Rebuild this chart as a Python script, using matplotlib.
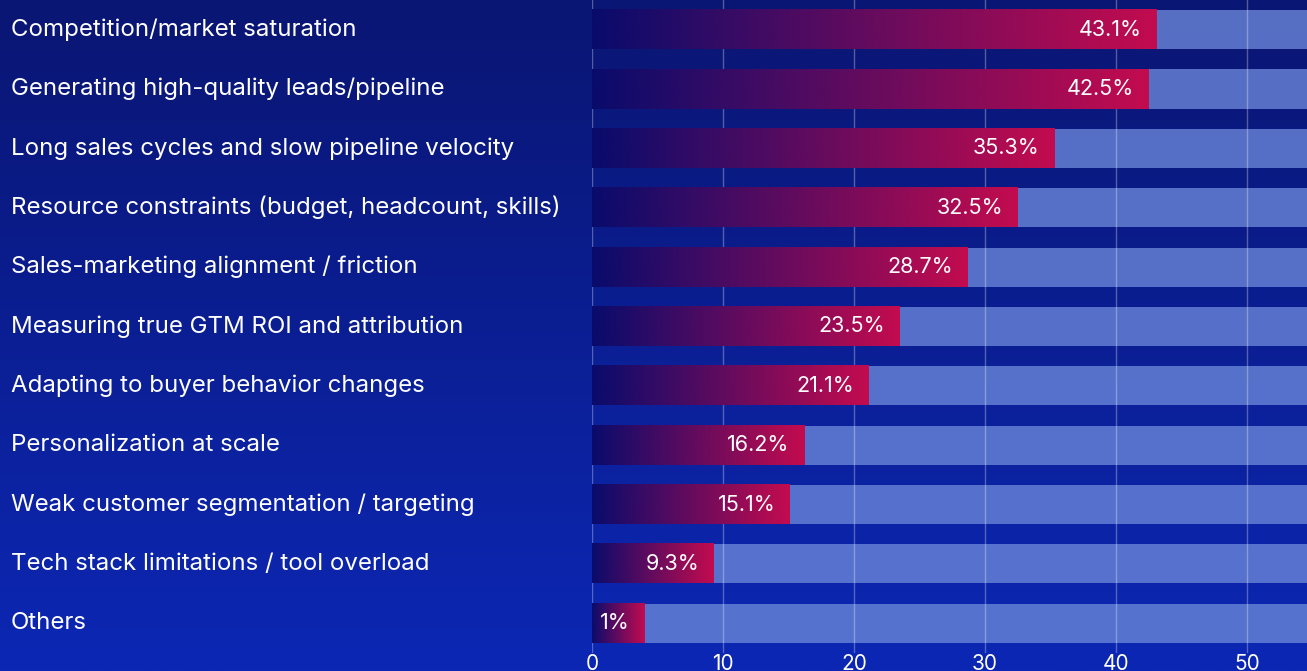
import numpy as np
import matplotlib.pyplot as plt
from matplotlib.colors import LinearSegmentedColormap

categories = [
    "Competition/market saturation",
    "Generating high-quality leads/pipeline",
    "Long sales cycles and slow pipeline velocity",
    "Resource constraints (budget, headcount, skills)",
    "Sales-marketing alignment / friction",
    "Measuring true GTM ROI and attribution",
    "Adapting to buyer behavior changes",
    "Personalization at scale",
    "Weak customer segmentation / targeting",
    "Tech stack limitations / tool overload",
    "Others",
]
values = [43.1, 42.5, 35.3, 32.5, 28.7, 23.5, 21.1, 16.2, 15.1, 9.3, 1]
labels = ["43.1%", "42.5%", "35.3%", "32.5%", "28.7%", "23.5%", "21.1%",
          "16.2%", "15.1%", "9.3%", "1%"]
xticks = [0, 10, 20, 30, 40, 50]

plt.rcParams["font.family"] = ["Inter", "DejaVu Sans"]

fig = plt.figure(figsize=(13.07, 6.71), dpi=100)

# background gradient
bg = fig.add_axes([0, 0, 1, 1], zorder=0)
bg_cmap = LinearSegmentedColormap.from_list("bg", ["#0a1673", "#0c27b4"])
bg.imshow(np.linspace(0, 1, 256).reshape(-1, 1), cmap=bg_cmap, aspect="auto",
          extent=[0, 1, 1, 0])
bg.set_axis_off()

ax = fig.add_axes([0.453, 0.027, 0.547, 0.973], zorder=1)
ax.set_facecolor("none")
xmax = 54.6
n = len(categories)
ax.set_xlim(0, xmax)
ax.set_ylim(n - 0.5, -0.5)

bar_cmap = LinearSegmentedColormap.from_list("bar", ["#090b6c", "#c30b4f"])
grad = np.linspace(0, 1, 256).reshape(1, -1)
h = 0.66
min_width = 4

for i, (v, lab) in enumerate(zip(values, labels)):
    w = max(v, min_width)
    # light track behind
    ax.barh(i, xmax - w, left=w, height=h, color="#6a86d8", alpha=0.8,
            zorder=1, linewidth=0)
    ax.imshow(grad, cmap=bar_cmap, aspect="auto",
              extent=[0, w, i + h / 2, i - h / 2], zorder=3)
    ax.text(w - 1.1, i, lab, color="white", fontsize=15.5, ha="right",
            va="center", zorder=4)
    fig.text(0.0085, ax.transData.transform((0, i))[1] / fig.bbox.height,
             categories[i], color="white", fontsize=17.3, ha="left",
             va="center")

ax.set_xlim(0, xmax)
ax.set_ylim(n - 0.5, -0.5)

for x in xticks:
    ax.axvline(x, color="white", alpha=0.3, linewidth=1, zorder=2)

ax.set_xticks(xticks)
ax.set_yticks([])
ax.tick_params(axis="x", length=0, pad=1, labelsize=15, labelcolor="white")
for s in ax.spines.values():
    s.set_visible(False)

fig.savefig("out.png", dpi=100)
